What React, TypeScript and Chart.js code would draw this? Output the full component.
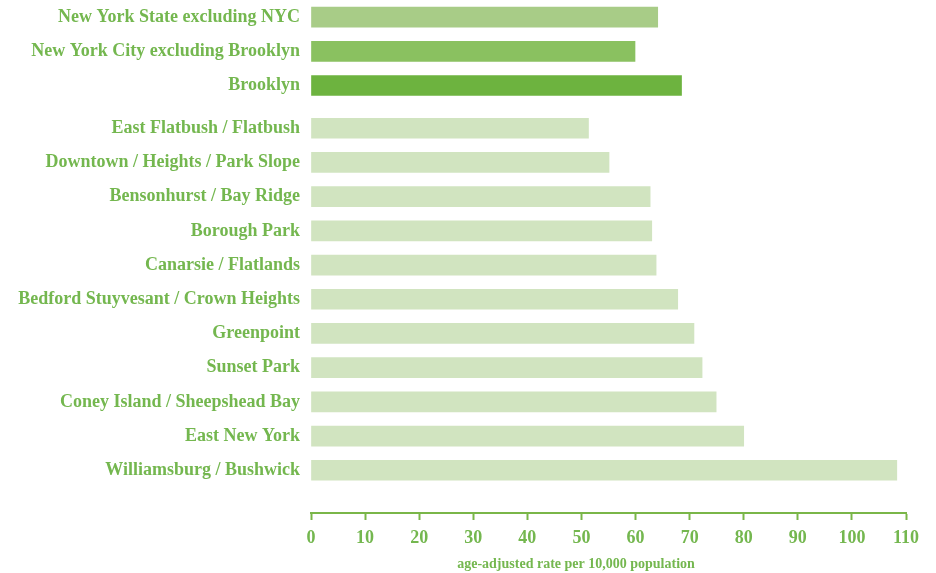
import { useEffect, useRef } from 'react';
import { Chart, registerables } from 'chart.js';

Chart.register(...registerables);

const categories = [
  'New York State excluding NYC',
  'New York City excluding Brooklyn',
  'Brooklyn',
  'East Flatbush / Flatbush',
  'Downtown / Heights / Park Slope',
  'Bensonhurst / Bay Ridge',
  'Borough Park',
  'Canarsie / Flatlands',
  'Bedford Stuyvesant / Crown Heights',
  'Greenpoint',
  'Sunset Park',
  'Coney Island / Sheepshead Bay',
  'East New York',
  'Williamsburg / Bushwick',
];

const values = [64.1, 59.9, 68.5, 51.3, 55.1, 62.7, 63.0, 63.8, 67.8, 70.8, 72.3, 74.9, 80.0, 108.3];

const barColors = [
  '#a8cc87', '#8ac160', '#6db33f',
  '#d1e4c0', '#d1e4c0', '#d1e4c0', '#d1e4c0', '#d1e4c0', '#d1e4c0',
  '#d1e4c0', '#d1e4c0', '#d1e4c0', '#d1e4c0', '#d1e4c0',
];

const xMin = 0;
const xMax = 110;
const xStep = 10;
const axisTitle = 'age-adjusted rate per 10,000 population';

const TEXT = '#74b74f';
const AXIS = '#7ab648';
const FONT = '"Liberation Serif", "Times New Roman", serif';

// slot positions: the three summary rows are separated from the neighbourhoods by a small gap
const slots = categories.map((_, i) => i + (i >= 3 ? 0.25 : 0));
const yMin = -0.5;
const yMax = 14.5;

export default function App() {
  const ref = useRef<HTMLCanvasElement | null>(null);

  useEffect(() => {
    document.body.style.margin = '0';
    const canvas = ref.current;
    if (!canvas) return;

    const titlePlugin = {
      id: 'axisTitleText',
      afterDraw(chart: any) {
        const { ctx } = chart;
        ctx.save();
        ctx.fillStyle = TEXT;
        ctx.font = `bold 14px ${FONT}`;
        ctx.textAlign = 'center';
        ctx.textBaseline = 'middle';
        ctx.fillText(axisTitle, 576, 564);
        ctx.restore();
      },
    };

    const chart = new Chart(canvas, {
      type: 'bar',
      data: {
        datasets: [
          {
            data: values.map((v, i) => ({ x: v, y: slots[i] })),
            backgroundColor: barColors,
            borderWidth: 0,
            barThickness: 20,
          },
        ],
      },
      options: {
        indexAxis: 'y',
        animation: false,
        responsive: true,
        maintainAspectRatio: false,
        layout: { autoPadding: false, padding: { top: 0, right: 30, bottom: 0, left: 0 } },
        plugins: {
          legend: { display: false },
          tooltip: { enabled: false },
        },
        scales: {
          y: {
            type: 'linear',
            reverse: true,
            offset: false,
            min: yMin,
            max: yMax,
            grid: { display: false, drawTicks: false, offset: false },
            border: { display: false },
            afterDataLimits: (scale: any) => {
              scale.min = yMin;
              scale.max = yMax;
            },
            afterFit: (scale: any) => {
              scale.width = 311;
              scale.paddingTop = 0;
              scale.paddingBottom = 0;
            },
            afterBuildTicks: (scale: any) => {
              scale.ticks = slots.map((v) => ({ value: v }));
            },
            ticks: {
              autoSkip: false,
              padding: 11,
              color: TEXT,
              font: { family: FONT, size: 18, weight: 'bold' },
              callback: (_v: any, i: number) => categories[i],
            },
          },
          x: {
            type: 'linear',
            min: xMin,
            max: xMax,
            afterFit: (scale: any) => {
              scale.height = 60;
            },
            grid: {
              drawOnChartArea: false,
              drawTicks: true,
              tickLength: 7,
              tickWidth: 2,
              color: AXIS,
            },
            border: { display: true, color: AXIS, width: 2 },
            ticks: {
              stepSize: xStep,
              padding: 8,
              color: TEXT,
              maxRotation: 0,
              font: { family: FONT, size: 18, weight: 'bold' },
            },
          },
        },
      },
      plugins: [titlePlugin],
    });

    return () => chart.destroy();
  }, []);

  return (
    <div style={{ position: 'relative', width: 936, height: 573 }}>
      <canvas ref={ref} />
    </div>
  );
}
